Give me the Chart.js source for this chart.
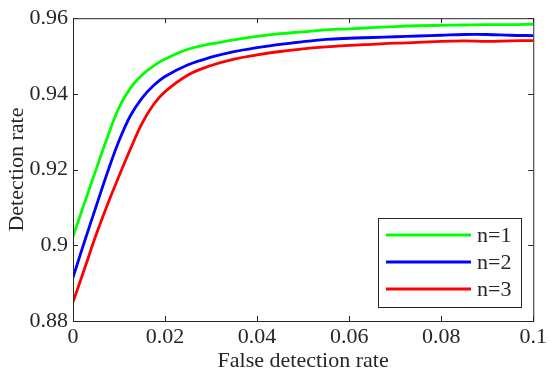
<!DOCTYPE html>
<html>
<head>
<meta charset="utf-8">
<script src="https://cdn.jsdelivr.net/npm/chart.js@4"></script>
<style>
  html, body { margin: 0; padding: 0; background: #fff; }
  #wrap { width: 550px; height: 379px; }
</style>
</head>
<body>
<div id="wrap"><canvas id="myChart" width="550" height="379"></canvas></div>
<script>
// false detection rate (x)
const falseRate = [
  0, 0.0025, 0.005, 0.0075, 0.01, 0.0125, 0.015, 0.0175, 0.02, 0.025, 0.03,
  0.035, 0.04, 0.045, 0.05, 0.055, 0.06, 0.065, 0.07, 0.075, 0.08, 0.085,
  0.09, 0.095, 0.1,
];

const detN1 = [
  0.9023, 0.9112, 0.92, 0.9286, 0.9364, 0.9416, 0.945, 0.9474, 0.9492, 0.9518,
  0.9532, 0.9543, 0.9552, 0.9559, 0.9564, 0.9569, 0.9572, 0.9575, 0.9578,
  0.958, 0.9581, 0.9582, 0.9583, 0.9583, 0.9584,
];
const detN2 = [
  0.8915, 0.901, 0.9102, 0.9193, 0.9276, 0.9343, 0.9389, 0.9422, 0.9446,
  0.9477, 0.9497, 0.9512, 0.9522, 0.9531, 0.9538, 0.9544, 0.9547, 0.9549,
  0.9551, 0.9553, 0.9555, 0.9557, 0.9557, 0.9555, 0.9554,
];
const detN3 = [
  0.885, 0.8938, 0.9027, 0.9108, 0.9183, 0.9255, 0.9322, 0.9372, 0.9406,
  0.945, 0.9475, 0.9492, 0.9503, 0.9512, 0.9519, 0.9524, 0.9528, 0.9531,
  0.9534, 0.9536, 0.9539, 0.954, 0.9539, 0.954, 0.9541,
];

const seriesNames = ["n=1", "n=2", "n=3"];
const seriesColors = ["#00ff00", "#0000ff", "#ff0000"];
const xTicks = [0, 0.02, 0.04, 0.06, 0.08, 0.1];
const yTicks = [0.88, 0.9, 0.92, 0.94, 0.96];

const axisColor = "#262626";
const serif = "'Liberation Serif', 'Times New Roman', serif";

const toPoints = (ys) => ys.map((y, i) => ({ x: falseRate[i], y: y }));

// MATLAB-like box with inward ticks and a boxed legend
const boxPlugin = {
  id: "matlabBox",
  afterDatasetsDraw(chart) {
    const { ctx, chartArea: a, scales } = chart;
    ctx.save();
    ctx.strokeStyle = axisColor;
    ctx.lineWidth = 1;
    ctx.strokeRect(a.left + 0.5, a.top + 0.5, a.right - a.left, a.bottom - a.top);
    const tl = 5;
    ctx.beginPath();
    xTicks.forEach((v) => {
      const px = Math.round(scales.x.getPixelForValue(v)) + 0.5;
      ctx.moveTo(px, a.bottom);
      ctx.lineTo(px, a.bottom - tl);
      ctx.moveTo(px, a.top);
      ctx.lineTo(px, a.top + tl);
    });
    yTicks.forEach((v) => {
      const py = Math.round(scales.y.getPixelForValue(v)) + 0.5;
      ctx.moveTo(a.left, py);
      ctx.lineTo(a.left + tl, py);
      ctx.moveTo(a.right, py);
      ctx.lineTo(a.right - tl, py);
    });
    ctx.stroke();

    // legend
    const lx = 378, ly = 218, lw = 143, lh = 89;
    ctx.fillStyle = "#fff";
    ctx.fillRect(lx, ly, lw, lh);
    ctx.strokeStyle = axisColor;
    ctx.strokeRect(lx + 0.5, ly + 0.5, lw, lh);
    ctx.font = "22px " + serif;
    ctx.textBaseline = "middle";
    chart.data.datasets.forEach((ds, i) => {
      const y = ly + 17 + i * 27;
      ctx.strokeStyle = ds.borderColor;
      ctx.lineWidth = 2.8;
      ctx.beginPath();
      ctx.moveTo(lx + 8, y);
      ctx.lineTo(lx + 93, y);
      ctx.stroke();
      ctx.fillStyle = axisColor;
      ctx.fillText(ds.label, lx + 99, y + 1);
    });
    ctx.restore();
  },
};

const ctx = document.querySelector("#myChart");
const myChart = new Chart(ctx, {
  type: "line",
  data: {
    datasets: [detN1, detN2, detN3].map((ys, i) => ({
      label: seriesNames[i],
      data: toPoints(ys),
      borderColor: seriesColors[i],
      borderWidth: 2.8,
      pointRadius: 0,
      tension: 0.4,
      fill: false,
    })),
  },
  options: {
    responsive: false,
    animation: false,
    layout: { padding: { top: 13, right: 15, left: 0, bottom: 0 } },
    plugins: { legend: { display: false }, tooltip: { enabled: false } },
    scales: {
      x: {
        type: "linear",
        min: 0,
        max: 0.1,
        grid: { display: false, drawTicks: false },
        border: { display: false },
        afterBuildTicks: (s) => { s.ticks = xTicks.map((v) => ({ value: v })); },
        afterFit: (s) => { s.height = 58; },
        ticks: {
          color: axisColor,
          padding: 3,
          maxRotation: 0,
          font: { family: serif, size: 22 },
          callback: (v) => String(Number(v.toFixed(2))),
        },
        title: {
          display: true,
          text: "False detection rate",
          color: axisColor,
          padding: { top: 0, bottom: 5 },
          font: { family: serif, size: 22 },
        },
      },
      y: {
        min: 0.88,
        max: 0.96,
        grid: { display: false, drawTicks: false },
        border: { display: false },
        afterBuildTicks: (s) => { s.ticks = yTicks.map((v) => ({ value: v })); },
        afterFit: (s) => { s.width = 73; },
        ticks: {
          color: axisColor,
          padding: 5,
          font: { family: serif, size: 22 },
          callback: (v) => String(Number(v.toFixed(2))),
        },
        title: {
          display: true,
          text: "Detection rate",
          color: axisColor,
          padding: { top: 4, bottom: 0 },
          font: { family: serif, size: 22 },
        },
      },
    },
  },
  plugins: [boxPlugin],
});
</script>
</body>
</html>
